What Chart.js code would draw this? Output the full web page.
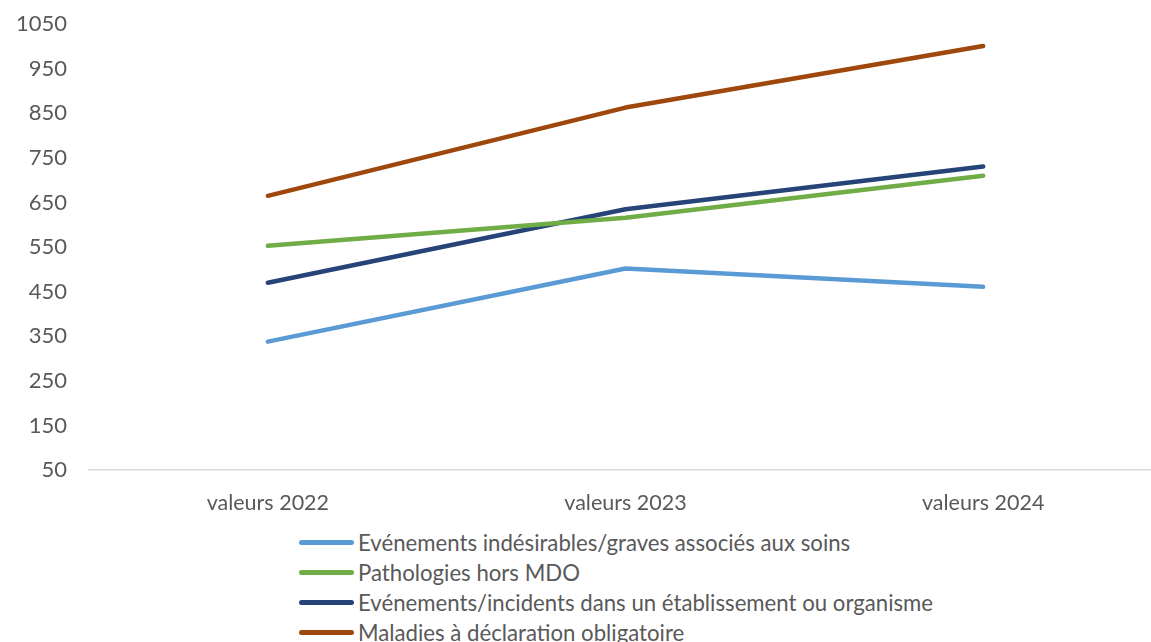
<!DOCTYPE html>
<html>
<head>
<meta charset="utf-8">
<script src="https://cdn.jsdelivr.net/npm/chart.js@4/dist/chart.umd.min.js"></script>
<style>
  html, body { margin: 0; padding: 0; background: #fff; overflow: hidden; width: 1151px; height: 642px; }
  #wrap { position: absolute; left: 0; top: -11px; width: 1162px; height: 536px; }
  #legend { position: absolute; left: 299px; top: 527px; font-family: Lato, "Open Sans", sans-serif; font-size: 22.2px; color: #595959; }
  .item { display: flex; align-items: center; height: 30px; white-space: nowrap; }
  .swatch { width: 55px; height: 5px; border-radius: 3px; margin-right: 4px; }
</style>
</head>
<body>
<div id="wrap"><canvas id="c"></canvas></div>
<div id="legend"></div>
<script>
const categories = ["valeurs 2022", "valeurs 2023", "valeurs 2024"];
const seriesNames = [
  "Evénements indésirables/graves associés aux soins",
  "Pathologies hors MDO",
  "Evénements/incidents dans un établissement ou organisme",
  "Maladies à déclaration obligatoire"
];
const evenementsIndesirables = [338, 502, 461];
const pathologiesHorsMDO = [553, 616, 710];
const evenementsIncidents = [470, 635, 731];
const maladiesDeclaration = [665, 863, 1001];
const seriesColors = ["#5B9BD5", "#70AD47", "#264478", "#9E480E"];
const yMin = 50, yMax = 1050, yStep = 100;

const values = [evenementsIndesirables, pathologiesHorsMDO, evenementsIncidents, maladiesDeclaration];
const FONT = "Lato, 'Open Sans', sans-serif";

const chart = new Chart(document.getElementById("c"), {
  type: "line",
  data: {
    labels: categories,
    datasets: seriesNames.map((name, i) => ({
      label: name,
      data: values[i],
      borderColor: seriesColors[i],
      backgroundColor: seriesColors[i],
      borderWidth: 4.5,
      borderCapStyle: "round",
      borderJoinStyle: "round",
      pointRadius: 0,
      pointHoverRadius: 0,
      tension: 0,
      fill: false
    }))
  },
  options: {
    responsive: true,
    maintainAspectRatio: false,
    animation: false,
    layout: { padding: { top: 18, left: 0, right: 0, bottom: 0 } },
    plugins: { legend: { display: false }, tooltip: { enabled: false } },
    scales: {
      x: {
        offset: true,
        grid: { display: false, drawTicks: false },
        border: { display: true, color: "#D9D9D9", width: 1.5 },
        ticks: { color: "#595959", font: { family: FONT, size: 21.5 }, padding: 20, maxRotation: 0 },
        afterFit: s => { s.height = 55; }
      },
      y: {
        min: yMin, max: yMax,
        grid: { display: false, drawTicks: false },
        border: { display: false },
        ticks: { stepSize: yStep, color: "#595959", font: { family: FONT, size: 22 }, padding: 22,
                 callback: v => String(v) },
        afterFit: s => { s.width = 89; }
      }
    }
  }
});

const legend = document.getElementById("legend");
chart.data.datasets.forEach(ds => {
  const row = document.createElement("div");
  row.className = "item";
  const sw = document.createElement("span");
  sw.className = "swatch";
  sw.style.background = ds.borderColor;
  const tx = document.createElement("span");
  tx.textContent = ds.label;
  row.appendChild(sw);
  row.appendChild(tx);
  legend.appendChild(row);
});
</script>
</body>
</html>
